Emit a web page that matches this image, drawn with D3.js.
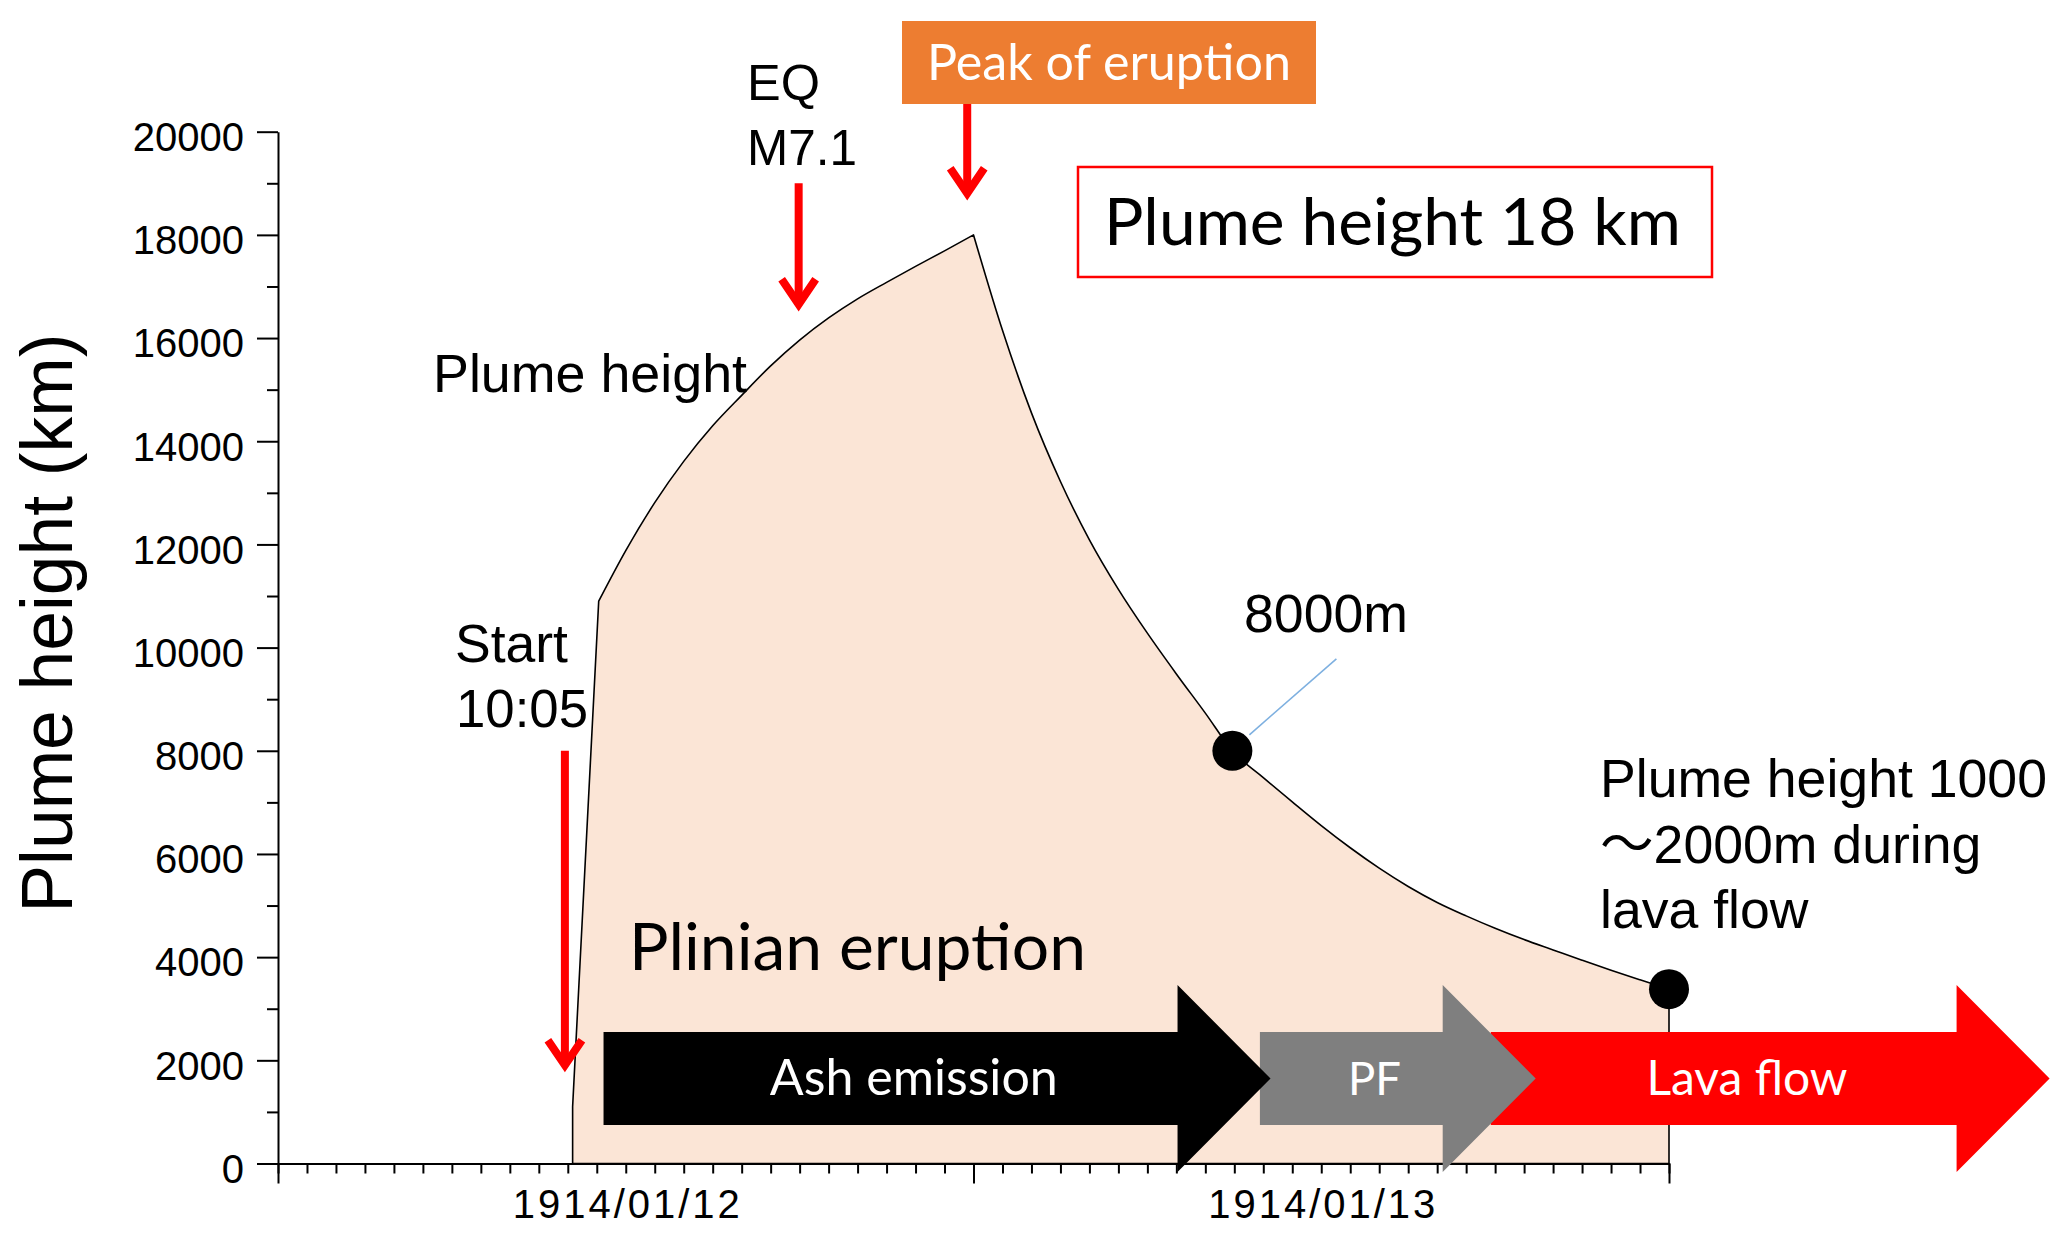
<!DOCTYPE html>
<html><head><meta charset="utf-8">
<script src="https://cdn.jsdelivr.net/npm/d3@7"></script>
<style>
html,body{margin:0;padding:0;background:#fff;}
svg{display:block;}
</style></head><body>
<svg id="chart" width="2067" height="1242"></svg>
<script>
// ---------------- data ----------------
const xDomain = ["1914-01-12T00:00", "1914-01-14T00:00"];
const yDomain = [0, 20000];
const yMajorTicks = [0, 2000, 4000, 6000, 8000, 10000, 12000, 14000, 16000, 18000, 20000];
const yMinorTicks = [1000, 3000, 5000, 7000, 9000, 11000, 13000, 15000, 17000, 19000];
const xLabelTimes = ["1914-01-12T12:00", "1914-01-13T12:00"];

const plumeTimes = [
  "1914-01-12T10:10", "1914-01-12T10:10", "1914-01-12T11:04",
  "1914-01-12T12:00", "1914-01-12T13:00", "1914-01-12T14:00", "1914-01-12T15:00",
  "1914-01-12T16:00", "1914-01-12T17:00", "1914-01-12T18:00", "1914-01-12T19:00",
  "1914-01-12T20:00", "1914-01-12T21:00", "1914-01-12T22:00", "1914-01-12T23:00",
  "1914-01-13T00:00",
  "1914-01-13T01:00", "1914-01-13T02:00", "1914-01-13T03:00", "1914-01-13T04:00",
  "1914-01-13T05:00", "1914-01-13T06:00", "1914-01-13T07:00", "1914-01-13T08:00",
  "1914-01-13T08:56",
  "1914-01-13T10:00", "1914-01-13T11:00", "1914-01-13T12:00", "1914-01-13T13:00",
  "1914-01-13T14:00", "1914-01-13T15:00", "1914-01-13T16:00", "1914-01-13T17:00",
  "1914-01-13T18:00", "1914-01-13T19:00", "1914-01-13T20:00", "1914-01-13T21:00",
  "1914-01-13T22:00", "1914-01-13T23:00", "1914-01-14T00:00"
];
const plumeValues = [
  0, 1100, 10900,
  11880, 12810, 13610, 14300,
  14890, 15460, 15960, 16390,
  16760, 17080, 17390, 17690,
  18000,
  16150, 14550, 13220, 12090,
  11130, 10280, 9490, 8730,
  8000,
  7480, 7010, 6550, 6120,
  5725, 5370, 5060, 4800,
  4560, 4340, 4140, 3940,
  3745, 3560, 3380
];
const plumeBreaks = ["1914-01-12T11:04", "1914-01-13T00:00"];

const markerTimes = ["1914-01-13T08:56", "1914-01-14T00:00"];
const markerValues = [8000, 3380];

const eventTimes = ["1914-01-12T09:54", "1914-01-12T17:58", "1914-01-12T23:47"];
const eventTopValues = [8000, 19000, 20600];
const eventTipValues = [1750, 16500, 18650];

const phaseNames = ["Lava flow", "PF", "Ash emission"];
const phaseStart = ["1914-01-13T17:51", "1914-01-13T09:53", "1914-01-12T11:14"];
const phaseTip = ["1914-01-14T13:08", "1914-01-13T19:24", "1914-01-13T10:15"];
const phaseColors = ["#FF0000", "#7F7F7F", "#000000"];

// ---------------- setup ----------------
const parse = d3.utcParse("%Y-%m-%dT%H:%M");
const svg = d3.select("#chart");
const ARIAL = "'Liberation Sans', Arial, 'Noto Sans CJK JP', sans-serif";
const CALIBRI = "Lato, 'Open Sans', sans-serif";

const x = d3.scaleUtc().domain(xDomain.map(parse)).range([278, 1669]);
const y = d3.scaleLinear().domain(yDomain).range([1163.5, 131.7]);

function fitWidth(sel, w) {
  const cur = sel.node().getComputedTextLength();
  const fs = parseFloat(sel.attr("font-size"));
  if (cur > 0) sel.attr("font-size", (fs * w / cur).toFixed(2));
  return sel;
}

// ---------------- plume area ----------------
const pts = plumeTimes.map((t, i) => [x(parse(t)), y(plumeValues[i])]);
const i1 = plumeTimes.indexOf(plumeBreaks[0]);
const i2 = plumeTimes.indexOf(plumeBreaks[1]);
const lin = d3.line().curve(d3.curveLinear);
const mono = d3.line().curve(d3.curveMonotoneX);
const strip = s => s.replace(/^M[^LC]*/, "");
let dPath = lin(pts.slice(0, i1 + 1)) + strip(mono(pts.slice(i1, i2 + 1))) + strip(mono(pts.slice(i2)));
const last = pts[pts.length - 1];
dPath += "L" + last[0] + "," + y(0) + "Z";
svg.append("path").attr("d", dPath)
  .attr("fill", "#FBE5D6").attr("stroke", "#000").attr("stroke-width", 1.6)
  .attr("stroke-linejoin", "round");

// ---------------- axes ----------------
const gy = svg.append("g").attr("transform", `translate(${x.range()[0]},0)`).style("color", "#000");
gy.call(d3.axisLeft(y).tickValues(yMajorTicks).tickSize(21).tickPadding(13).tickSizeOuter(0)
  .tickFormat(d3.format("d")));
gy.selectAll("text").attr("font-family", ARIAL).attr("font-size", 40).attr("dy", "0.47em");
gy.select(".domain").attr("stroke-width", 2);
gy.selectAll(".tick line").attr("stroke-width", 2);
const gyMinor = svg.append("g").attr("transform", `translate(${x.range()[0]},0)`).style("color", "#000");
gyMinor.call(d3.axisLeft(y).tickValues(yMinorTicks).tickSize(11).tickFormat("").tickSizeOuter(0));
gyMinor.select(".domain").remove();
gyMinor.selectAll(".tick line").attr("stroke-width", 2);

const gx = svg.append("g").attr("transform", `translate(0,${y(0)})`).style("color", "#000");
gx.call(d3.axisBottom(x).ticks(d3.utcHour.every(1)).tickSize(10).tickFormat("").tickSizeOuter(0));
gx.select(".domain").attr("stroke-width", 2);
gx.selectAll(".tick line").attr("stroke-width", 2);
const gxMajor = svg.append("g").attr("transform", `translate(0,${y(0)})`).style("color", "#000");
gxMajor.call(d3.axisBottom(x).ticks(d3.utcDay.every(1)).tickSize(20).tickFormat("").tickSizeOuter(0));
gxMajor.select(".domain").remove();
gxMajor.selectAll(".tick line").attr("stroke-width", 2);
const gxLab = svg.append("g").attr("transform", `translate(0,${y(0)})`).style("color", "#000");
gxLab.call(d3.axisBottom(x).tickValues(xLabelTimes.map(parse)).tickSize(0).tickPadding(26)
  .tickFormat(d3.utcFormat("%Y/%m/%d")));
gxLab.select(".domain").remove();
gxLab.selectAll("text").attr("font-family", ARIAL).attr("font-size", 40)
  .attr("textLength", 227).attr("lengthAdjust", "spacing");

// y-axis title
const yt = svg.append("text").attr("transform", "translate(72,623) rotate(-90)")
  .attr("text-anchor", "middle").attr("font-family", ARIAL).attr("font-size", 72)
  .attr("fill", "#000").text("Plume height (km)");
fitWidth(yt, 579);

// ---------------- phase arrows ----------------
const headLen = 93, bodyTop = 1032, bodyBot = 1125, headTop = 985, headBot = 1172, mid = 1078.5;
phaseNames.forEach((name, i) => {
  const x0 = x(parse(phaseStart[i])), xt = x(parse(phaseTip[i])), xh = xt - headLen;
  const poly = [[x0, bodyTop], [xh, bodyTop], [xh, headTop], [xt, mid], [xh, headBot], [xh, bodyBot], [x0, bodyBot]];
  svg.append("path").attr("d", d3.line()(poly) + "Z").attr("fill", phaseColors[i]);
});
const phaseTextW = {"Ash emission": 288, "PF": 53, "Lava flow": 201};
phaseNames.forEach((name, i) => {
  const x0 = x(parse(phaseStart[i])), xt = x(parse(phaseTip[i]));
  const cx = (x0 + xt - headLen / 2) / 2;
  const t = svg.append("text").attr("x", cx).attr("y", 1095).attr("text-anchor", "middle")
    .attr("font-family", CALIBRI).attr("font-size", 50).attr("fill", "#fff").text(name);
  fitWidth(t, phaseTextW[name]);
});

// ---------------- event arrows ----------------
eventTimes.forEach((t, i) => {
  const xx = x(parse(t)), yTop = y(eventTopValues[i]), yTip = y(eventTipValues[i]);
  svg.append("line").attr("x1", xx).attr("x2", xx).attr("y1", yTop).attr("y2", yTip - 10)
    .attr("stroke", "#FF0000").attr("stroke-width", 8);
  svg.append("path").attr("d", `M${xx - 17},${yTip - 33}L${xx},${yTip - 8}L${xx + 17},${yTip - 33}`)
    .attr("fill", "none").attr("stroke", "#FF0000").attr("stroke-width", 8)
    .attr("stroke-linejoin", "miter").attr("stroke-miterlimit", 10);
});

// ---------------- markers ----------------
const mx0 = x(parse(markerTimes[0])), my0 = y(markerValues[0]);
svg.append("line").attr("x1", mx0 + 17).attr("y1", my0 - 16).attr("x2", mx0 + 104).attr("y2", my0 - 92)
  .attr("stroke", "#7EB0E0").attr("stroke-width", 1.6);
svg.selectAll("circle.marker").data(markerTimes).join("circle").attr("class", "marker")
  .attr("cx", d => x(parse(d))).attr("cy", (d, i) => y(markerValues[i])).attr("r", 20).attr("fill", "#000");

// ---------------- boxes & labels ----------------
svg.append("rect").attr("x", 902).attr("y", 21).attr("width", 414).attr("height", 83).attr("fill", "#ED7D31");
fitWidth(svg.append("text").attr("x", 1109).attr("y", 80).attr("text-anchor", "middle")
  .attr("font-family", CALIBRI).attr("font-size", 50).attr("fill", "#fff").text("Peak of eruption"), 364);

svg.append("rect").attr("x", 1078).attr("y", 167).attr("width", 634).attr("height", 110)
  .attr("fill", "#fff").attr("stroke", "#FF0000").attr("stroke-width", 2.5);
fitWidth(svg.append("text").attr("x", 1104).attr("y", 245)
  .attr("font-family", CALIBRI).attr("font-size", 68).attr("fill", "#000").text("Plume height 18 km"), 577);

fitWidth(svg.append("text").attr("x", 629).attr("y", 970)
  .attr("font-family", CALIBRI).attr("font-size", 64).attr("fill", "#000").text("Plinian eruption"), 457);

function label(tx, ty, str, w) {
  const t = svg.append("text").attr("x", tx).attr("y", ty).attr("font-family", ARIAL)
    .attr("font-size", 53).attr("fill", "#000").text(str);
  if (w) fitWidth(t, w);
  return t;
}
label(747, 100, "EQ", 73);
label(747, 165, "M7.1", 110);
label(433, 392, "Plume height", 314);
label(455, 662, "Start", 113);
label(456, 727, "10:05", 132);
label(1244, 632, "8000m", 164);
const n1 = label(1600, 797, "Plume height 1000", 447);
const fsN = n1.attr("font-size");
label(1600, 863, "～2000m during").attr("font-size", fsN);
label(1600, 928, "lava flow").attr("font-size", fsN);
</script>
</body></html>
